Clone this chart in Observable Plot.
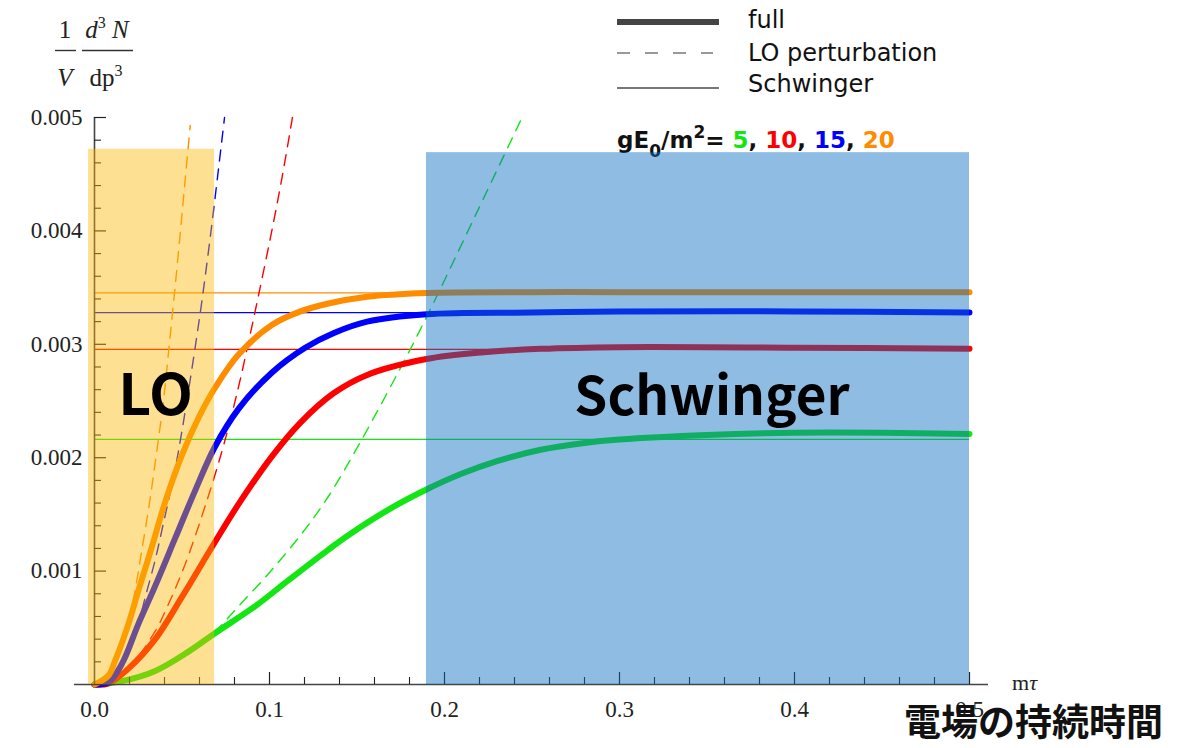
<!DOCTYPE html>
<html><head><meta charset="utf-8">
<script src="https://cdn.jsdelivr.net/npm/d3@7"></script>
<script src="https://cdn.jsdelivr.net/npm/@observablehq/plot@0.6"></script>
<style>body{margin:0;background:#fff} svg{display:block}</style>
</head><body><div id="chart"></div>
<script>
// ---- data ----
const fieldStrengths = [5, 10, 15, 20];
const seriesColors = ["#14e614", "#ff0000", "#0000ff", "#ff8c00"];

const tauFull5  = [0, 0.0156, 0.0347, 0.0537, 0.0686, 0.0918, 0.1109, 0.1337, 0.1463, 0.17, 0.1897, 0.21, 0.23, 0.255, 0.28, 0.3, 0.35, 0.4, 0.45, 0.5];
const full5     = [0, 0.00003, 0.00012, 0.00029, 0.00045, 0.00069, 0.00092, 0.00119, 0.00133, 0.00156, 0.00172, 0.00186, 0.00197, 0.00207, 0.00213, 0.00216, 0.0022, 0.00222, 0.00222, 0.00221];
const tauFull10 = [0, 0.008, 0.0194, 0.0347, 0.0499, 0.0686, 0.0823, 0.1013, 0.1177, 0.1368, 0.1558, 0.1897, 0.2225, 0.2549, 0.3, 0.4, 0.5];
const full10    = [0, 0.00001, 0.00014, 0.0004, 0.00077, 0.00125, 0.00159, 0.00201, 0.00231, 0.00257, 0.00273, 0.00287, 0.00293, 0.00296, 0.002975, 0.00297, 0.00296];
const tauFull15 = [0, 0.008, 0.0156, 0.0251, 0.0347, 0.0461, 0.0575, 0.0686, 0.0823, 0.1013, 0.1204, 0.1368, 0.1558, 0.1897, 0.25, 0.3, 0.4, 0.5];
const full15    = [0, 0.00002, 0.00018, 0.000535, 0.00087, 0.00129, 0.00171, 0.00209, 0.00243, 0.00275, 0.00297, 0.0031, 0.0032, 0.003265, 0.00328, 0.00329, 0.00329, 0.00328];
const tauFull20 = [0, 0.008, 0.0118, 0.0194, 0.0251, 0.0327, 0.0404, 0.0499, 0.0594, 0.0686, 0.0823, 0.1013, 0.1177, 0.1337, 0.1558, 0.1897, 0.25, 0.3, 0.4, 0.5];
const full20    = [0, 0.00008, 0.00021, 0.000535, 0.00083, 0.00121, 0.00161, 0.00202, 0.00235, 0.00261, 0.00291, 0.00317, 0.00329, 0.00336, 0.00342, 0.003453, 0.00346, 0.00346, 0.00346, 0.00346];

const tauLO5  = [0, 0.0156, 0.0347, 0.0537, 0.069, 0.0823, 0.1013, 0.1204, 0.1337, 0.152, 0.1806, 0.19, 0.1958, 0.2187, 0.2434];
const lo5     = [0, 0.00003, 0.00012, 0.00029, 0.00047, 0.00069, 0.00101, 0.00137, 0.00166, 0.00214, 0.00296, 0.00325, 0.00343, 0.00417, 0.00497];
const tauLO10 = [0, 0.008, 0.0194, 0.0347, 0.0423, 0.0518, 0.0642, 0.0727, 0.0784, 0.0833, 0.088, 0.0922, 0.0956, 0.1004, 0.1051, 0.109, 0.1131];
const lo10    = [0, 0.00001, 0.00014, 0.00047, 0.00071, 0.00106, 0.00162, 0.00205, 0.00238, 0.00269, 0.00302, 0.00332, 0.00357, 0.00393, 0.00430, 0.00463, 0.005];
const tauLO15 = [0, 0.008, 0.0156, 0.0251, 0.029, 0.0347, 0.0385, 0.0461, 0.0499, 0.0537, 0.0575, 0.061, 0.0642, 0.067, 0.0695, 0.0718, 0.0743];
const lo15    = [0, 0.00002, 0.00018, 0.00055, 0.00077, 0.0011, 0.00136, 0.00190, 0.00223, 0.00259, 0.00297, 0.00334, 0.00371, 0.00405, 0.00437, 0.00467, 0.005];
const tauLO20 = [0, 0.008, 0.0118, 0.0194, 0.0232, 0.027, 0.0318, 0.0356, 0.0394, 0.0423, 0.0457, 0.049, 0.0518, 0.0547];
const lo20    = [0, 0.00008, 0.00021, 0.00055, 0.00083, 0.00118, 0.00164, 0.00206, 0.0025, 0.00293, 0.00345, 0.00398, 0.00445, 0.00493];

const schwingerLevels = [0.002162, 0.002956, 0.00328, 0.003453];

const regionNames = ["LO", "Schwinger"];
const regionX1 = [-0.0034, 0.1897];
const regionX2 = [0.0686, 0.5];
const regionTop = [0.00472, 0.00469];
const regionFill = ["rgb(250,183,0)", "rgb(10,110,195)"];
const regionOpacity = [0.43, 0.46];

const xTickValues = [0, 0.1, 0.2, 0.3, 0.4, 0.5];
const xTickLabels = ["0.0", "0.1", "0.2", "0.3", "0.4", "0.5"];
const yTickValues = [0.001, 0.002, 0.003, 0.004, 0.005];
const yTickLabels = ["0.001", "0.002", "0.003", "0.004", "0.005"];

// ---- tables ----
const fullSets = [[tauFull5, full5], [tauFull10, full10], [tauFull15, full15], [tauFull20, full20]];
const loSets = [[tauLO5, lo5], [tauLO10, lo10], [tauLO15, lo15], [tauLO20, lo20]];
const toRows = sets => sets.flatMap(([t, v], k) => t.map((tau, i) => ({g: fieldStrengths[k], tau, v: v[i]})));
const fullRows = toRows(fullSets);
const loRows = toRows(loSets);
const schwRows = schwingerLevels.map((v, k) => ({g: fieldStrengths[k], v}));
const regions = regionNames.map((name, i) => ({name, x1: regionX1[i], x2: regionX2[i], y2: regionTop[i], fill: regionFill[i], op: regionOpacity[i]}));
const xTicks = xTickValues.map((x, i) => ({x, label: xTickLabels[i]}));
const yTicks = yTickValues.map((y, i) => ({y, label: yTickLabels[i]}));
const xMinor = d3.range(1, 25).map(i => i * 0.02).filter(v => Math.abs(v * 10 - Math.round(v * 10)) > 1e-6);
const yMinor = d3.range(1, 25).map(i => i * 0.0002).filter(v => Math.abs(v * 1000 - Math.round(v * 1000)) > 1e-6);

// ---- layout ----
const W = 1179, H = 748, mL = 94, mR = W - 969, mT = 117, mB = H - 684;
const pxX = 0.5 / (W - mL - mR), pxY = 0.005 / (H - mT - mB);
const serif = "Liberation Serif, Times New Roman, serif";
const sans = "DejaVu Sans, sans-serif";
const cjk = "Noto Sans CJK JP, sans-serif";

const chart = Plot.plot({
  width: W, height: H, marginLeft: mL, marginRight: mR, marginTop: mT, marginBottom: mB,
  x: {domain: [0, 0.5], axis: null},
  y: {domain: [0, 0.005], axis: null},
  color: {type: "ordinal", domain: fieldStrengths, range: seriesColors},
  style: {background: "white", overflow: "visible"},
  marks: [
    Plot.ruleY(schwRows, {y: "v", x1: 0, x2: 0.5, stroke: "g", strokeWidth: 1.3}),
    Plot.line(loRows, {x: "tau", y: "v", z: "g", stroke: "g", strokeWidth: 1.4, strokeDasharray: "11,8", curve: "catmull-rom"}),
    Plot.line(fullRows, {x: "tau", y: "v", z: "g", stroke: "g", strokeWidth: 6, strokeLinecap: "round", curve: "catmull-rom"}),
    // axes
    Plot.ruleY([0], {x1: -20 * pxX, x2: 0.5 + 19 * pxX, stroke: "#444", strokeWidth: 1.6}),
    Plot.ruleX([0], {y1: 0, y2: 0.005, stroke: "#444", strokeWidth: 1.6}),
    Plot.ruleX(xTicks.slice(1), {x: "x", y1: 0, y2: 12 * pxY, stroke: "#222", strokeWidth: 1.2}),
    Plot.ruleX(xMinor, {x: d => d, y1: 0, y2: 7 * pxY, stroke: "#222", strokeWidth: 1.1}),
    Plot.ruleY(yTicks, {y: "y", x1: 0, x2: 12 * pxX, stroke: "#222", strokeWidth: 1.2}),
    Plot.ruleY(yMinor, {y: d => d, x1: 0, x2: 7 * pxX, stroke: "#222", strokeWidth: 1.1}),
    // shaded regions
    Plot.rect(regions, {x1: "x1", x2: "x2", y1: 0, y2: "y2", fill: "fill", fillOpacity: "op"}),
    // tick labels
    Plot.text(xTicks, {x: "x", y: 0, text: "label", dy: 25, fontFamily: serif, fontSize: 23, fill: "#222"}),
    Plot.text(yTicks, {x: 0, y: "y", text: "label", dx: -12, textAnchor: "end", fontFamily: serif, fontSize: 23, fill: "#222"})
  ]
});

document.getElementById("chart").appendChild(chart);
const svg = d3.select(chart);

// gE0/m^2 label (under the Schwinger shading)
const ge = svg.insert("text", 'g[aria-label="rect"]')
  .attr("x", 617).attr("y", 148).attr("text-anchor", "start")
  .attr("font-family", sans).attr("font-weight", "bold").attr("font-size", 23).attr("fill", "#111");
ge.append("tspan").text("gE");
ge.append("tspan").attr("font-size", 17).attr("dy", 9).text("0");
ge.append("tspan").attr("dy", -9).text("/m");
ge.append("tspan").attr("font-size", 17).attr("dy", -10).text("2");
ge.append("tspan").attr("dy", 10).text("= ");
fieldStrengths.forEach((f, i) => {
  ge.append("tspan").attr("fill", seriesColors[i]).text(String(f));
  if (i < fieldStrengths.length - 1) ge.append("tspan").attr("fill", "#111").text(", ");
});

// region labels
regions.forEach(r => {
  const cx = r.name === "LO" ? 155.5 : 712;
  svg.append("text").attr("x", cx).attr("y", 415).attr("text-anchor", "middle")
    .attr("font-family", cjk).attr("font-weight", "bold").attr("font-size", r.name === "LO" ? 57 : 53)
    .attr("fill", "#000").text(r.name);
});

// legend
const leg = svg.append("g").attr("text-anchor", "start");
const legendItems = [
  {label: "full", y: 22, w: 6, stroke: "#444", dash: null, x2: 719, ty: 28},
  {label: "LO perturbation", y: 53, w: 2, stroke: "#999", dash: "13,15", x2: 713, ty: 60.5},
  {label: "Schwinger", y: 88, w: 2.2, stroke: "#777", dash: null, x2: 719, ty: 91.5}
];
legendItems.forEach(d => {
  leg.append("line").attr("x1", 617).attr("x2", d.x2).attr("y1", d.y).attr("y2", d.y)
    .attr("stroke", d.stroke).attr("stroke-width", d.w).attr("stroke-dasharray", d.dash);
  leg.append("text").attr("x", 748).attr("y", d.ty).attr("text-anchor", "start")
    .attr("font-family", sans).attr("font-size", 24).attr("fill", "#111").text(d.label);
});

// y-axis label: 1/V d^3N/dp^3
const yl = svg.append("g").attr("font-family", serif).attr("font-size", 25).attr("fill", "#222");
yl.append("text").attr("x", 65).attr("y", 38).attr("text-anchor", "middle").text("1");
const num = yl.append("text").attr("x", 107).attr("y", 38).attr("text-anchor", "middle");
num.append("tspan").attr("font-style", "italic").text("d");
num.append("tspan").attr("font-size", 16).attr("dy", -10).text("3");
num.append("tspan").attr("dy", 10).attr("font-style", "italic").text(" N");
yl.append("line").attr("x1", 55).attr("x2", 76).attr("y1", 50.5).attr("y2", 50.5).attr("stroke", "#333").attr("stroke-width", 1.4);
yl.append("line").attr("x1", 82).attr("x2", 133).attr("y1", 50.5).attr("y2", 50.5).attr("stroke", "#333").attr("stroke-width", 1.4);
yl.append("text").attr("x", 65).attr("y", 86).attr("text-anchor", "middle").attr("font-style", "italic").text("V");
const den = yl.append("text").attr("x", 106).attr("y", 86).attr("text-anchor", "middle");
den.append("tspan").text("dp");
den.append("tspan").attr("font-size", 16).attr("dy", -10).text("3");

// x-axis label
const xl = svg.append("text").attr("x", 1012).attr("y", 690).attr("text-anchor", "start")
  .attr("font-family", serif).attr("font-size", 22).attr("fill", "#222");
xl.append("tspan").text("m");
xl.append("tspan").attr("font-style", "italic").text("τ");

// Japanese caption
svg.append("text").attr("x", 1163).attr("y", 736).attr("text-anchor", "end")
  .attr("font-family", cjk).attr("font-weight", "bold").attr("font-size", 37).attr("fill", "#111").text("電場の持続時間");
</script>
</body></html>
